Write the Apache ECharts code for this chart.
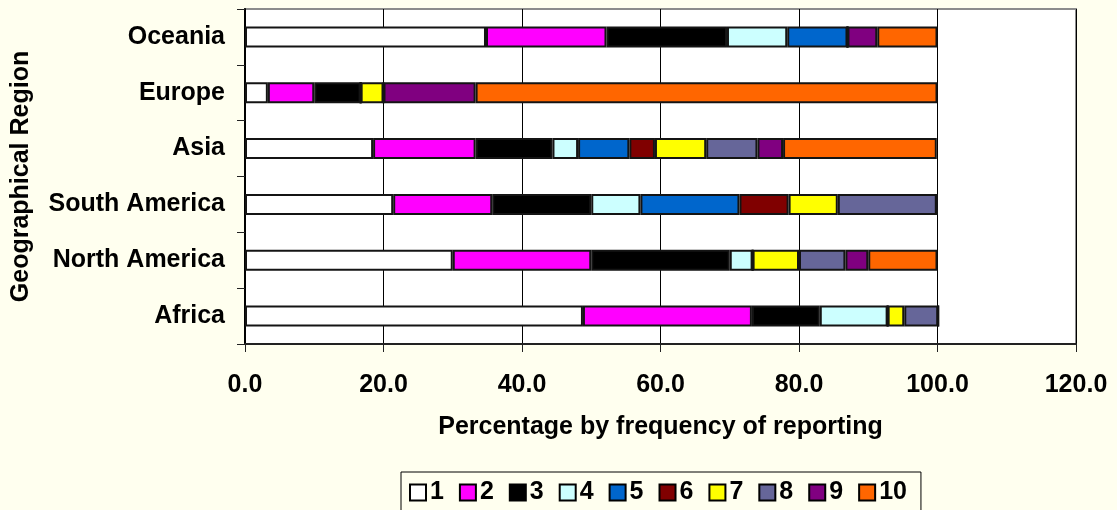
<!DOCTYPE html>
<html>
<head>
<meta charset="utf-8">
<script src="https://cdn.jsdelivr.net/npm/echarts@6/dist/echarts.min.js"></script>
<style>
  html, body { margin: 0; padding: 0; background: #FFFFEF; }
  #chart { width: 1117px; height: 510px; }
</style>
</head>
<body>
<div id="chart"></div>
<script>
// Regions, listed top to bottom
const regions = ['Oceania', 'Europe', 'Asia', 'South America', 'North America', 'Africa'];

// Reporting frequency classes 1..10
const classes = ['1', '2', '3', '4', '5', '6', '7', '8', '9', '10'];

// Percentage of each region's reports falling in each class (same order as regions)
const class1  = [34.8,  3.3, 18.5, 21.4, 30.0, 48.8];
const class2  = [17.4,  6.7, 14.8, 14.3, 20.0, 24.4];
const class3  = [17.4,  6.7, 11.1, 14.3, 20.0,  9.8];
const class4  = [ 8.7,  0.0,  3.7,  7.1,  3.3,  9.8];
const class5  = [ 8.7,  0.0,  7.4, 14.3,  0.0,  0.0];
const class6  = [ 0.0,  0.0,  3.7,  7.1,  0.0,  0.0];
const class7  = [ 0.0,  3.3,  7.4,  7.1,  6.7,  2.4];
const class8  = [ 0.0,  0.0,  7.4, 14.3,  6.7,  4.9];
const class9  = [ 4.3, 13.3,  3.7,  0.0,  3.3,  0.0];
const class10 = [ 8.7, 66.7, 22.2,  0.0, 10.0,  0.0];

const classValues = [class1, class2, class3, class4, class5, class6, class7, class8, class9, class10];

// Axis ticks
const xTicks = { min: 0, max: 120, interval: 20 };

const palette = ['#FFFFFF', '#FF00FF', '#000000', '#CCFFFF', '#0066CC',
                 '#800000', '#FFFF00', '#666699', '#800080', '#FF6600'];

const font = "'Liberation Sans', Arial, sans-serif";
const textSize = 25;

const chart = echarts.init(document.getElementById('chart'));

chart.setOption({
  backgroundColor: '#FFFFEF',
  animation: false,
  textStyle: { fontFamily: font },
  grid: {
    left: 245, right: 41, top: 9, bottom: 166,
    show: true,
    backgroundColor: '#FFFFFF',
    borderColor: '#8C8C8C',
    borderWidth: 2
  },
  legend: {
    data: classes,
    left: 401,
    top: 472,
    padding: [8, 14, 24, 8],
    itemGap: 15,
    itemWidth: 16,
    itemHeight: 16,
    icon: 'rect',
    borderColor: '#000000',
    borderWidth: 1,
    backgroundColor: '#FFFFEF',
    itemStyle: { borderColor: '#000000', borderWidth: 2 },
    textStyle: { fontSize: textSize, fontWeight: 'bold', color: '#000', fontFamily: font, padding: [0, 0, 0, -1] }
  },
  xAxis: {
    type: 'value',
    min: xTicks.min,
    max: xTicks.max,
    interval: xTicks.interval,
    name: 'Percentage by frequency of reporting',
    nameLocation: 'middle',
    nameGap: 71,
    nameTextStyle: { fontSize: textSize, fontWeight: 'bold', color: '#000', fontFamily: font },
    axisLine: { show: true, lineStyle: { color: '#222', width: 2 } },
    axisTick: { show: true, length: 8, lineStyle: { color: '#222', width: 1 } },
    axisLabel: {
      margin: 29,
      fontSize: textSize, fontWeight: 'bold', color: '#000', fontFamily: font,
      formatter: v => v.toFixed(1)
    },
    splitLine: { show: true, lineStyle: { color: '#000', width: 1 } }
  },
  yAxis: {
    type: 'category',
    data: regions,
    inverse: true,
    name: 'Geographical Region',
    nameLocation: 'middle',
    nameGap: 211,
    nameRotate: 90,
    nameTextStyle: { fontSize: textSize, fontWeight: 'bold', color: '#000', fontFamily: font },
    axisLine: { show: true, lineStyle: { color: '#000', width: 2 } },
    axisTick: { show: true, length: 8, lineStyle: { color: '#222', width: 1 } },
    axisLabel: { margin: 20, fontSize: textSize, fontWeight: 'bold', color: '#000', fontFamily: font }
  },
  series: classes.map((c, i) => ({
    name: c,
    type: 'bar',
    stack: 'total',
    barWidth: 21,
    data: classValues[i],
    itemStyle: { color: palette[i], borderColor: '#141414', borderWidth: 2 }
  }))
});
</script>
</body>
</html>
